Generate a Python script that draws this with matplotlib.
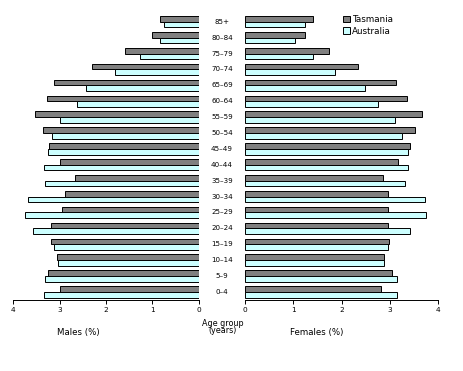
import matplotlib
matplotlib.use("Agg")
import matplotlib.pyplot as plt
import numpy as np

age_groups = ["0–4", "5–9", "10–14", "15–19", "20–24", "25–29", "30–34", "35–39",
              "40–44", "45–49", "50–54", "55–59", "60–64", "65–69", "70–74",
              "75–79", "80–84", "85+"]
males_tas = [2.99, 3.25, 3.05, 3.18, 3.18, 2.95, 2.88, 2.67, 2.99, 3.23, 3.35, 3.53,
             3.27, 3.12, 2.30, 1.59, 1.01, 0.84]
males_aus = [3.33, 3.31, 3.03, 3.12, 3.57, 3.74, 3.68, 3.31, 3.33, 3.25, 3.16, 2.99,
             2.62, 2.43, 1.81, 1.27, 0.84, 0.75]
females_tas = [2.82, 3.05, 2.89, 2.99, 2.97, 2.97, 2.97, 2.87, 3.18, 3.43, 3.53, 3.67,
               3.36, 3.13, 2.35, 1.74, 1.25, 1.41]
females_aus = [3.16, 3.16, 2.89, 2.97, 3.43, 3.76, 3.74, 3.32, 3.38, 3.38, 3.26, 3.11,
               2.76, 2.49, 1.87, 1.41, 1.04, 1.25]
x_ticks = [0, 1, 2, 3, 4]

TAS = "#808080"
AUS = "#ccffff"
FONT = "DejaVu Sans"

fig = plt.figure(figsize=(4.64, 3.71), dpi=100)
bottom, height = 0.191, 0.7726
axL = fig.add_axes([13/464, bottom, (199-13)/464, height])
axR = fig.add_axes([245/464, bottom, (438-245)/464, height])

y = np.arange(len(age_groups))
h = 0.355
off = 0.18
for ax, tas, aus in [(axL, males_tas, males_aus), (axR, females_tas, females_aus)]:
    ax.barh(y + off, tas, height=h, color=TAS, edgecolor="black", linewidth=0.7, label="Tasmania")
    ax.barh(y - off, aus, height=h, color=AUS, edgecolor="black", linewidth=0.7, label="Australia")
    ax.set_ylim(-0.52, 17.52)
    ax.set_xlim(0, 4)
    for s in ["top", "right", "left"]:
        ax.spines[s].set_visible(False)
    ax.spines["bottom"].set_linewidth(0.7)
    ax.set_yticks([])
    ax.set_xticks(x_ticks)
    ax.set_xticklabels([str(t) for t in x_ticks], fontsize=5.3, family=FONT)
    ax.tick_params(axis="x", length=3, width=0.7, pad=2)
    ax.set_facecolor("none")

axL.invert_xaxis()

# age labels in the middle
for yi, lab in zip(y, age_groups):
    fig.text(222/464, axL.transData.transform((0, yi))[1] / fig.bbox.height,
             lab, ha="center", va="center", fontsize=5.1, family=FONT)

fig.text(223/464, 1 - 327/371, "Age group\n(years)", ha="center", va="center",
         fontsize=5.8, family=FONT, linespacing=0.85)
fig.text(78/464, 1 - 333/371, "Males (%)", ha="center", va="center", fontsize=6.2, family=FONT)
fig.text(317/464, 1 - 333/371, "Females (%)", ha="center", va="center", fontsize=6.2, family=FONT)

handles, labels = axR.get_legend_handles_labels()
leg = fig.legend(handles, labels, loc="upper left", bbox_to_anchor=(343/464, 1 - 15/371),
                 frameon=False, handlelength=0.75, handleheight=0.75,
                 handletextpad=0.3, labelspacing=0.3, borderaxespad=0, borderpad=0,
                 prop={"family": FONT, "size": 6.3})

fig.savefig("out.png", dpi=100)
